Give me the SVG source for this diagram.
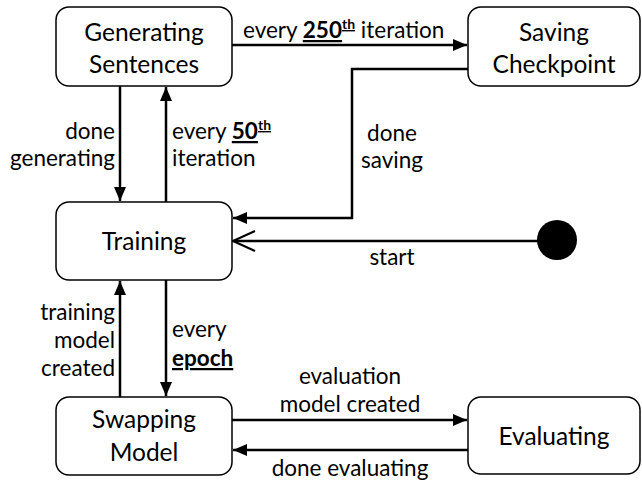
<svg xmlns="http://www.w3.org/2000/svg" width="642" height="482" viewBox="0 0 642 482">
<style>
.n rect{fill:#fff;stroke:#000;stroke-width:1.5}
.nt{font-family:Lato,"Liberation Sans",sans-serif;font-size:24.5px;fill:#000;text-anchor:middle}
.lt{font-family:Lato,"Liberation Sans",sans-serif;font-size:22.5px;fill:#000}
.c path,.c line{stroke:#000;stroke-width:2.5;fill:none}
.b{font-weight:bold;text-decoration:underline}
</style>
<defs>
<marker id="ah" markerWidth="14" markerHeight="12" refX="14" refY="6" orient="auto" markerUnits="userSpaceOnUse"><path d="M0,0 L14,6 L0,12 Z" fill="#000"/></marker>
<marker id="oh" markerWidth="26" markerHeight="24" refX="24" refY="12" orient="auto" markerUnits="userSpaceOnUse"><path d="M2,2 L24,12 L2,22" fill="none" stroke="#000" stroke-width="2"/></marker>
</defs>
<g class="c">
<line x1="232" y1="45" x2="467" y2="45" marker-end="url(#ah)"/>
<path d="M468,69 H352 V218 H233" marker-end="url(#ah)"/>
<line x1="538" y1="241" x2="233" y2="241" marker-end="url(#oh)"/>
<line x1="120" y1="86" x2="120" y2="201" marker-end="url(#ah)"/>
<line x1="166" y1="202" x2="166" y2="87" marker-end="url(#ah)"/>
<line x1="166" y1="280" x2="166" y2="396" marker-end="url(#ah)"/>
<line x1="120" y1="397" x2="120" y2="281" marker-end="url(#ah)"/>
<line x1="232" y1="420" x2="467" y2="420" marker-end="url(#ah)"/>
<line x1="468" y1="450" x2="233" y2="450" marker-end="url(#ah)"/>
<text class="lt" x="243" y="38">every <tspan class="b">250<tspan font-size="14" dy="-9">th</tspan></tspan><tspan dy="9"> iteration</tspan></text>
<text class="lt" x="392" y="141" text-anchor="middle">done</text>
<text class="lt" x="392" y="168" text-anchor="middle">saving</text>
<text class="lt" x="392" y="265" text-anchor="middle">start</text>
<text class="lt" x="115" y="139" text-anchor="end">done</text>
<text class="lt" x="115" y="166" text-anchor="end">generating</text>
<text class="lt" x="172" y="139">every <tspan class="b">50<tspan font-size="14" dy="-9">th</tspan></tspan></text>
<text class="lt" x="172" y="166">iteration</text>
<text class="lt" x="115" y="320" text-anchor="end">training</text>
<text class="lt" x="115" y="348" text-anchor="end">model</text>
<text class="lt" x="115" y="376" text-anchor="end">created</text>
<text class="lt" x="172" y="337">every</text>
<text class="lt b" x="172" y="366">epoch</text>
<text class="lt" x="350" y="384" text-anchor="middle">evaluation</text>
<text class="lt" x="350" y="412" text-anchor="middle">model created</text>
<text class="lt" x="350" y="476" text-anchor="middle">done evaluating</text>
</g>
<g id="gen" class="n"><rect x="56" y="7" width="176" height="79" rx="13"/><text class="nt" x="144" y="41">Generating</text><text class="nt" x="144" y="73">Sentences</text></g>
<g id="save" class="n"><rect x="468" y="7" width="172" height="79" rx="13"/><text class="nt" x="554" y="41">Saving</text><text class="nt" x="554" y="73">Checkpoint</text></g>
<g id="train" class="n"><rect x="56" y="202" width="176" height="78" rx="13"/><text class="nt" x="144" y="250">Training</text></g>
<g id="swap" class="n"><rect x="56" y="397" width="176" height="78" rx="13"/><text class="nt" x="144" y="428">Swapping</text><text class="nt" x="144" y="461">Model</text></g>
<g id="eval" class="n"><rect x="468" y="397" width="172" height="77" rx="13"/><text class="nt" x="554" y="445">Evaluating</text></g>
<g id="start"><circle cx="557" cy="240" r="20" fill="#000"/></g>
</svg>
